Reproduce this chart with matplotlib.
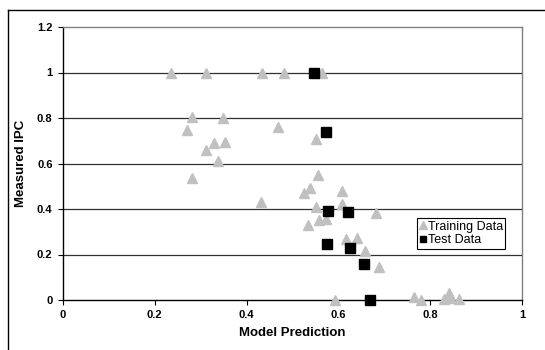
import matplotlib
matplotlib.use("Agg")
import matplotlib.pyplot as plt
from matplotlib.lines import Line2D

plt.rcParams['font.family'] = ['Liberation Sans', 'DejaVu Sans']

train_x = [0.235, 0.311, 0.434, 0.482, 0.564, 0.280, 0.270, 0.349, 0.469, 0.552,
           0.330, 0.354, 0.312, 0.338, 0.280, 0.432, 0.555, 0.539, 0.526, 0.608,
           0.608, 0.551, 0.682, 0.557, 0.573, 0.534, 0.617, 0.641, 0.657, 0.688,
           0.593, 0.765, 0.779, 0.830, 0.840, 0.845, 0.863]
train_y = [1.0, 1.0, 1.0, 1.0, 1.0, 0.806, 0.747, 0.799, 0.759, 0.706,
           0.691, 0.696, 0.659, 0.610, 0.536, 0.432, 0.549, 0.491, 0.472, 0.481,
           0.422, 0.410, 0.381, 0.352, 0.356, 0.330, 0.267, 0.274, 0.215, 0.147,
           0.0, 0.012, 0.0, 0.005, 0.030, 0.010, 0.005]

test_x = [0.546, 0.572, 0.578, 0.622, 0.576, 0.625, 0.655, 0.668]
test_y = [1.0, 0.740, 0.393, 0.388, 0.246, 0.227, 0.157, 0.0]

x_ticks = [0, 0.2, 0.4, 0.6, 0.8, 1]
x_labels = ['0', '0.2', '0.4', '0.6', '0.8', '1']
y_ticks = [0, 0.2, 0.4, 0.6, 0.8, 1, 1.2]
y_labels = ['0', '0.2', '0.4', '0.6', '0.8', '1', '1.2']

fig = plt.figure(figsize=(5.45, 3.5), dpi=100)
ax = fig.add_axes([63/545, 50/350, 459/545, 273/350])

ax.set_xlim(0, 1)
ax.set_ylim(0, 1.2)

for yv in y_ticks[1:-1]:
    ax.axhline(yv, color='#303030', lw=0.9, zorder=1)

ax.plot(train_x, train_y, linestyle='none', marker='^', ms=7.5, color='#C0C0C0',
        mec='#C0C0C0', clip_on=False, zorder=3, label='Training Data')
ax.plot(test_x, test_y, linestyle='none', marker='s', ms=6.5, color='black',
        clip_on=False, zorder=4, label='Test Data')

ax.set_xticks(x_ticks)
ax.set_xticklabels(x_labels, fontweight='bold', fontsize=8)
ax.set_yticks(y_ticks)
ax.set_yticklabels(y_labels, fontweight='bold', fontsize=8)
ax.tick_params(axis='both', direction='out', length=3.5, width=0.8, color='black', pad=4)

for s in ['top', 'right']:
    ax.spines[s].set_color('#808080')
    ax.spines[s].set_linewidth(1.0)
for s in ['left', 'bottom']:
    ax.spines[s].set_color('black')
    ax.spines[s].set_linewidth(1.0)

ax.set_xlabel('Model Prediction', fontweight='bold', fontsize=9.5, labelpad=5)
ax.set_ylabel('Measured IPC', fontweight='bold', fontsize=9.5, labelpad=7)

leg = ax.legend(loc='lower left', bbox_to_anchor=(0.771, 0.187), fontsize=9,
                frameon=True, fancybox=False, edgecolor='black', framealpha=1,
                borderpad=0.2, handlelength=0.5, handletextpad=0.15,
                labelspacing=0.15, borderaxespad=0, markerscale=0.7)
leg.get_frame().set_linewidth(0.8)
leg.set_zorder(10)

# outer chart border (left and top visible)
fig.add_artist(Line2D([8/545, 8/545], [0, 1 - 10/350], color='black', lw=1.0,
                      transform=fig.transFigure))
fig.add_artist(Line2D([8/545, 1], [1 - 10/350, 1 - 10/350], color='black', lw=1.0,
                      transform=fig.transFigure))

fig.savefig('out.png', dpi=100)
